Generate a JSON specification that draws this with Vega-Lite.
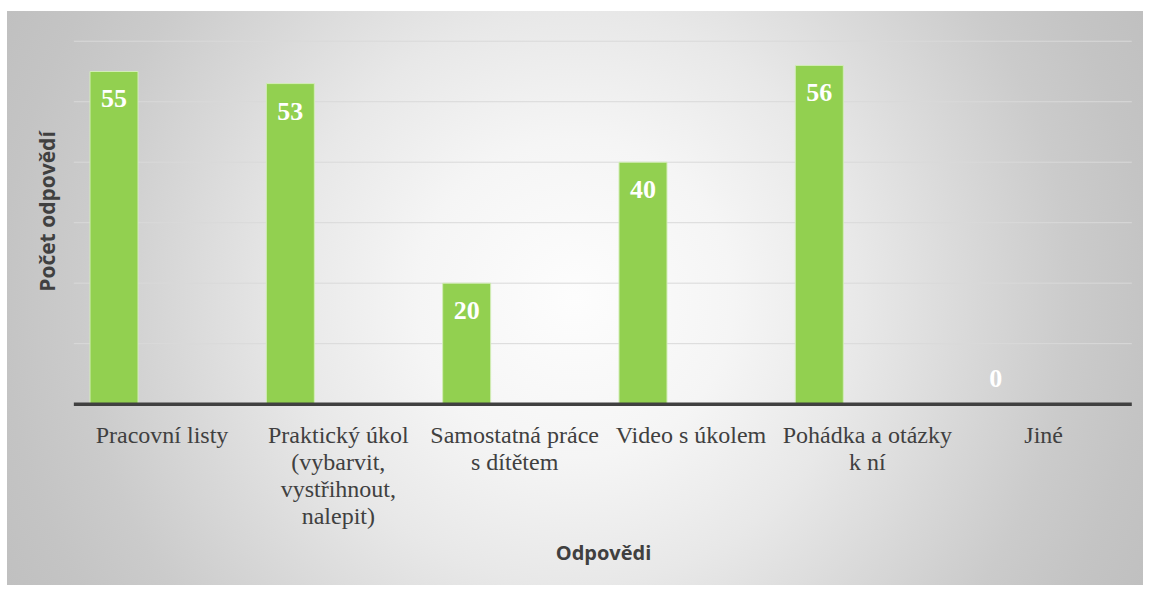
{
  "$schema": "https://vega.github.io/schema/vega-lite/v6.json",
  "width": 1136,
  "height": 574,
  "autosize": {"type": "none"},
  "padding": {"left": 7, "top": 11, "right": 7, "bottom": 7},
  "background": "#ffffff",
  "config": {"view": {"stroke": null}},
  "datasets": {
    "odpovedi": [
      {"odpoved": "Pracovní listy", "pocet": 55, "serie": "Počet"},
      {"odpoved": "Praktický úkol\n(vybarvit,\nvystřihnout,\nnalepit)", "pocet": 53, "serie": "Počet"},
      {"odpoved": "Samostatná práce\ns dítětem", "pocet": 20, "serie": "Počet"},
      {"odpoved": "Video s úkolem", "pocet": 40, "serie": "Počet"},
      {"odpoved": "Pohádka a otázky\nk ní", "pocet": 56, "serie": "Počet"},
      {"odpoved": "Jiné", "pocet": 0, "serie": "Počet"}
    ],
    "mrizka": [
      {"hodnota": 10}, {"hodnota": 20}, {"hodnota": 30},
      {"hodnota": 40}, {"hodnota": 50}, {"hodnota": 60}
    ]
  },
  "layer": [
    {
      "data": {"values": [{}]},
      "mark": {
        "type": "rect",
        "fill": {
          "gradient": "radial",
          "x1": 0.5, "y1": 0.5, "r1": 0,
          "x2": 0.5, "y2": 0.5, "r2": 0.56,
          "stops": [
            {"offset": 0, "color": "#fdfdfd"},
            {"offset": 0.25, "color": "#f5f5f5"},
            {"offset": 0.45, "color": "#e8e8e8"},
            {"offset": 0.63, "color": "#d8d8d8"},
            {"offset": 0.78, "color": "#cbcbcb"},
            {"offset": 0.9, "color": "#c4c4c4"},
            {"offset": 1, "color": "#c0c0c0"}
          ]
        }
      },
      "encoding": {}
    },
    {
      "data": {"name": "mrizka"},
      "mark": {"type": "rule", "color": "#d9d9d9", "strokeWidth": 1},
      "encoding": {
        "y": {"field": "hodnota", "type": "quantitative",
              "scale": {"domain": [-29.9, 65], "nice": false, "zero": false}},
        "x": {"datum": "Pracovní listy", "type": "nominal", "bandPosition": -0.1123,
              "scale": {"domain": ["Pracovní listy", "Praktický úkol\n(vybarvit,\nvystřihnout,\nnalepit)", "Samostatná práce\ns dítětem", "Video s úkolem", "Pohádka a otázky\nk ní", "Jiné"], "paddingInner": 0.1834, "paddingOuter": 0.313, "align": 0.752}},
        "x2": {"datum": "Jiné", "bandPosition": 1.1123}
      }
    },
    {
      "data": {"name": "odpovedi"},
      "mark": {"type": "bar", "color": "#92d050", "stroke": "#d3edb8", "strokeWidth": 1},
      "encoding": {
        "x": {
          "field": "odpoved", "type": "nominal", "sort": null,
          "scale": {"domain": ["Pracovní listy", "Praktický úkol\n(vybarvit,\nvystřihnout,\nnalepit)", "Samostatná práce\ns dítětem", "Video s úkolem", "Pohádka a otázky\nk ní", "Jiné"], "paddingInner": 0.1834, "paddingOuter": 0.313, "align": 0.752},
          "axis": {
            "orient": "bottom",
            "zindex": 2,
            "offset": -181,
            "bandPosition": 0.5,
            "domain": false,
            "grid": false,
            "ticks": false,
            "tickSize": 0,
            "labelAngle": 0,
            "labelAlign": "center",
            "labelPadding": 38,
            "labelBaseline": "alphabetic",
            "labelLineHeight": 27,
            "labelFont": "Liberation Serif",
            "labelFontSize": 24,
            "labelColor": "#404040",
            "labelLimit": 400,
            "labelOverlap": false,
            "labelFlush": false,
            "labelExpr": "split(datum.label, '\\n')",
            "title": "Odpovědi",
            "titleFont": "Open Sans",
            "titleFontSize": 20,
            "titleFontWeight": "bold",
            "titleColor": "#404040",
            "titleX": 596,
            "titleY": 149,
            "titleBaseline": "middle",
            "titleAlign": "center"
          }
        },
        "xOffset": {"field": "serie", "type": "nominal",
                    "scale": {"domain": ["Počet", "b", "c"], "paddingInner": 0, "paddingOuter": 0}},
        "y": {
          "field": "pocet", "type": "quantitative",
          "scale": {"domain": [-29.9, 65], "nice": false, "zero": false},
          "axis": {
            "orient": "left",
            "zindex": 2,
            "domain": false,
            "grid": false,
            "ticks": false,
            "labels": false,
            "title": "Počet odpovědí",
            "titleFont": "Open Sans",
            "titleFontSize": 21,
            "titleFontWeight": "bold",
            "titleColor": "#404040",
            "titleAngle": -90,
            "titleX": 41,
            "titleY": 200,
            "titleBaseline": "middle",
            "titleAlign": "center"
          }
        },
        "y2": {"datum": 0}
      }
    },
    {
      "data": {"values": [{}]},
      "mark": {"type": "rule", "color": "#404040", "strokeWidth": 3.5},
      "encoding": {
        "y": {"datum": 0, "type": "quantitative"},
        "x": {"datum": "Pracovní listy", "type": "nominal", "bandPosition": -0.1123},
        "x2": {"datum": "Jiné", "bandPosition": 1.1123}
      }
    },
    {
      "data": {"name": "odpovedi"},
      "transform": [{"filter": "datum.pocet > 0"}],
      "mark": {"type": "text", "color": "#ffffff", "font": "Liberation Serif", "fontSize": 26, "fontWeight": "bold", "baseline": "alphabetic", "dy": 36},
      "encoding": {
        "x": {"field": "odpoved", "type": "nominal", "sort": null},
        "xOffset": {"field": "serie", "type": "nominal"},
        "y": {"field": "pocet", "type": "quantitative"},
        "text": {"field": "pocet", "type": "quantitative"}
      }
    },
    {
      "data": {"name": "odpovedi"},
      "transform": [{"filter": "datum.pocet == 0"}],
      "mark": {"type": "text", "color": "#ffffff", "font": "Liberation Serif", "fontSize": 26, "fontWeight": "bold", "baseline": "alphabetic", "dy": -17},
      "encoding": {
        "x": {"field": "odpoved", "type": "nominal", "sort": null},
        "xOffset": {"field": "serie", "type": "nominal"},
        "y": {"field": "pocet", "type": "quantitative"},
        "text": {"field": "pocet", "type": "quantitative"}
      }
    }
  ]
}
